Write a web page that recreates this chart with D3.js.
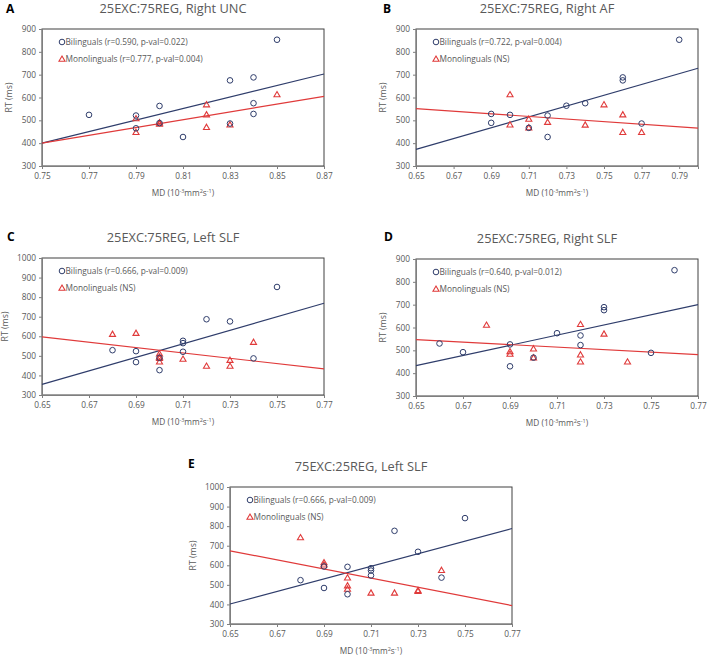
<!DOCTYPE html>
<html>
<head>
<meta charset="utf-8">
<script src="https://cdn.jsdelivr.net/npm/d3@7"></script>
<style>
  body { margin: 0; background: #fff; }
  svg text { font-family: "Open Sans", Lato, sans-serif; }
  .tick text { fill: #595959; font-size: 8.3px; font-family: "Open Sans", sans-serif; }
  .tick line, .domain { stroke: #7f7f7f; }
</style>
</head>
<body>
<div id="graphic"></div>
<script>
// ---- data ----
var titles = ["25EXC:75REG, Right UNC", "25EXC:75REG, Right AF", "25EXC:75REG, Left SLF",
              "25EXC:75REG, Right SLF", "75EXC:25REG, Left SLF"];
var letters = ["A", "B", "C", "D", "E"];
var biLegend = ["Bilinguals (r=0.590, p-val=0.022)", "Bilinguals (r=0.722, p-val=0.004)",
                "Bilinguals (r=0.666, p-val=0.009)", "Bilinguals (r=0.640, p-val=0.012)",
                "Bilinguals (r=0.666, p-val=0.009)"];
var monoLegend = ["Monolinguals (r=0.777, p-val=0.004)", "Monolinguals (NS)", "Monolinguals (NS)",
                  "Monolinguals (NS)", "Monolinguals (NS)"];

var xDomains = [[0.75, 0.87], [0.65, 0.80], [0.65, 0.77], [0.65, 0.77], [0.65, 0.77]];
var xTicks = [
  [0.75, 0.77, 0.79, 0.81, 0.83, 0.85, 0.87],
  [0.65, 0.67, 0.69, 0.71, 0.73, 0.75, 0.77, 0.79],
  [0.65, 0.67, 0.69, 0.71, 0.73, 0.75, 0.77],
  [0.65, 0.67, 0.69, 0.71, 0.73, 0.75, 0.77],
  [0.65, 0.67, 0.69, 0.71, 0.73, 0.75, 0.77]
];
var yTicksShort = [300, 400, 500, 600, 700, 800, 900];
var yTicksLong = [300, 400, 500, 600, 700, 800, 900, 1000];

var bilingualA = [[0.77, 524], [0.79, 521], [0.79, 465], [0.80, 563], [0.80, 488], [0.81, 427],
                  [0.83, 675], [0.83, 486], [0.84, 688], [0.84, 575], [0.84, 528], [0.85, 853]];
var monolingualA = [[0.79, 508], [0.79, 448], [0.80, 490], [0.80, 484], [0.82, 569], [0.82, 525],
                    [0.82, 470], [0.83, 481], [0.85, 613]];
var bilingualB = [[0.69, 528], [0.69, 489], [0.70, 524], [0.71, 467], [0.72, 521], [0.72, 427],
                  [0.73, 564], [0.74, 575], [0.76, 688], [0.76, 675], [0.77, 486], [0.79, 853]];
var monolingualB = [[0.70, 613], [0.70, 481], [0.71, 506], [0.71, 468], [0.72, 492], [0.74, 480],
                    [0.75, 569], [0.76, 525], [0.76, 448], [0.77, 448]];
var bilingualC = [[0.68, 529], [0.69, 524], [0.69, 468], [0.70, 427], [0.70, 490], [0.71, 577],
                  [0.71, 565], [0.71, 521], [0.72, 687], [0.73, 676], [0.74, 487], [0.75, 852]];
var monolingualC = [[0.68, 611], [0.69, 616], [0.70, 511], [0.70, 495], [0.70, 488], [0.70, 470],
                    [0.71, 484], [0.72, 448], [0.73, 478], [0.73, 448], [0.74, 570]];
var bilingualD = [[0.66, 530], [0.67, 492], [0.69, 526], [0.69, 430], [0.70, 468], [0.71, 575],
                  [0.72, 565], [0.72, 523], [0.73, 689], [0.73, 676], [0.75, 489], [0.76, 851]];
var monolingualD = [[0.68, 611], [0.69, 495], [0.69, 484], [0.70, 507], [0.70, 468], [0.72, 614],
                    [0.72, 481], [0.72, 450], [0.73, 572], [0.74, 450]];
var bilingualE = [[0.68, 524], [0.69, 594], [0.69, 484], [0.70, 592], [0.70, 452], [0.71, 585],
                  [0.71, 573], [0.71, 548], [0.72, 776], [0.73, 669], [0.74, 537], [0.75, 841]];
var monolingualE = [[0.68, 742], [0.69, 614], [0.69, 603], [0.70, 536], [0.70, 496], [0.70, 479],
                    [0.71, 459], [0.72, 459], [0.73, 472], [0.73, 467], [0.74, 575]];

// fitted lines: RT at the left and right end of the x domain
var bilingualFit = [[400, 703], [373, 728], [354, 769], [433, 700], [402, 788]];
var monolingualFit = [[400, 605], [551, 466], [597, 433], [547, 481], [674, 394]];

var bilingualSets = [bilingualA, bilingualB, bilingualC, bilingualD, bilingualE];
var monolingualSets = [monolingualA, monolingualB, monolingualC, monolingualD, monolingualE];

// ---- layout ----
var width = 708, height = 660;
var plotW = 282, plotH = 137;
var panels = [
  {left: 42, top: 29, letterX: 6, letterY: 13, yMax: 900},
  {left: 416, top: 29, letterX: 383, letterY: 13, yMax: 900},
  {left: 42, top: 258, letterX: 7, letterY: 241, yMax: 1000},
  {left: 416, top: 259, letterX: 384, letterY: 241, yMax: 900},
  {left: 230, top: 487, letterX: 188, letterY: 468, yMax: 1000}
];

var blue = "#2f3d6b", red = "#e03a3a", grey = "#595959";

var svg = d3.select("#graphic")
    .append("svg")
    .attr("width", width)
    .attr("height", height);

panels.forEach(function(p, i) {
  var x = d3.scaleLinear().domain(xDomains[i]).range([0, plotW]);
  var y = d3.scaleLinear().domain([300, p.yMax]).range([plotH, 0]);

  svg.append("text")
      .attr("x", p.letterX)
      .attr("y", p.letterY)
      .attr("font-family", "Liberation Sans, Arial, sans-serif")
      .attr("font-weight", "bold")
      .attr("font-size", 12)
      .attr("fill", "#000")
      .text(letters[i]);

  var g = svg.append("g")
      .attr("transform", "translate(" + p.left + "," + p.top + ")");

  g.append("text")
      .attr("x", plotW / 2 - 10)
      .attr("y", -16)
      .attr("text-anchor", "middle")
      .attr("font-family", "Lato, sans-serif")
      .attr("font-size", 12.8)
      .attr("fill", grey)
      .text(titles[i]);

  g.append("rect")
      .attr("width", plotW)
      .attr("height", plotH)
      .attr("fill", "none")
      .attr("stroke", "#404040")
      .attr("stroke-width", 1);

  g.append("g")
      .attr("transform", "translate(0," + plotH + ")")
      .call(d3.axisBottom(x).tickValues(xTicks[i]).tickFormat(d3.format(".2f"))
        .tickSizeOuter(0).tickSize(3).tickPadding(4));

  g.append("g")
      .call(d3.axisLeft(y).tickValues(p.yMax > 900 ? yTicksLong : yTicksShort)
        .tickFormat(d3.format("d"))
        .tickSizeOuter(0).tickSize(3).tickPadding(3));

  var xt = g.append("text")
      .attr("x", plotW / 2)
      .attr("y", plotH + 30)
      .attr("text-anchor", "middle")
      .attr("font-size", 8.3)
      .attr("fill", grey);
  xt.append("tspan").text("MD (10");
  xt.append("tspan").attr("dy", -3).attr("font-size", 5.5).text("-3");
  xt.append("tspan").attr("dy", 3).text("mm");
  xt.append("tspan").attr("dy", -3).attr("font-size", 5.5).text("2");
  xt.append("tspan").attr("dy", 3).text("s");
  xt.append("tspan").attr("dy", -3).attr("font-size", 5.5).text("-1");
  xt.append("tspan").attr("dy", 3).text(")");

  g.append("text")
      .attr("transform", "translate(" + (p.yMax > 900 ? -34 : -30) + "," + (plotH / 2) + ") rotate(-90)")
      .attr("text-anchor", "middle")
      .attr("font-family", "Lato, sans-serif")
      .attr("font-size", 8.8)
      .attr("fill", grey)
      .text("RT (ms)");

  // fit lines
  var line = d3.line().x(function(d) { return x(d[0]); }).y(function(d) { return y(d[1]); });
  g.append("path")
      .datum([[xDomains[i][0], bilingualFit[i][0]], [xDomains[i][1], bilingualFit[i][1]]])
      .attr("d", line)
      .attr("stroke", blue)
      .attr("stroke-width", 1.2)
      .attr("fill", "none");
  g.append("path")
      .datum([[xDomains[i][0], monolingualFit[i][0]], [xDomains[i][1], monolingualFit[i][1]]])
      .attr("d", line)
      .attr("stroke", red)
      .attr("stroke-width", 1.2)
      .attr("fill", "none");

  // points
  var tri = d3.symbol().type(d3.symbolTriangle).size(16);
  g.selectAll(".mono")
      .data(monolingualSets[i])
      .enter().append("path")
      .attr("class", "mono")
      .attr("d", tri)
      .attr("transform", function(d) { return "translate(" + x(d[0]) + "," + (y(d[1]) + 0.5) + ")"; })
      .attr("fill", "none")
      .attr("stroke", red)
      .attr("stroke-width", 1.1);
  g.selectAll(".bi")
      .data(bilingualSets[i])
      .enter().append("circle")
      .attr("class", "bi")
      .attr("cx", function(d) { return x(d[0]); })
      .attr("cy", function(d) { return y(d[1]); })
      .attr("r", 2.8)
      .attr("fill", "none")
      .attr("stroke", blue)
      .attr("stroke-width", 1);

  // legend
  var legend = g.append("g").attr("transform", "translate(20,0)");
  legend.append("circle")
      .attr("cx", 0).attr("cy", 13).attr("r", 2.8)
      .attr("fill", "none").attr("stroke", blue);
  legend.append("path")
      .attr("d", tri)
      .attr("transform", "translate(0,30.5)")
      .attr("fill", "none").attr("stroke", red).attr("stroke-width", 1.1);
  legend.append("text")
      .attr("x", 3.5).attr("y", 16)
      .attr("font-size", 8.3).attr("fill", grey)
      .text(biLegend[i]);
  legend.append("text")
      .attr("x", 3.5).attr("y", 33)
      .attr("font-size", 8.3).attr("fill", grey)
      .text(monoLegend[i]);
});
</script>
</body>
</html>
